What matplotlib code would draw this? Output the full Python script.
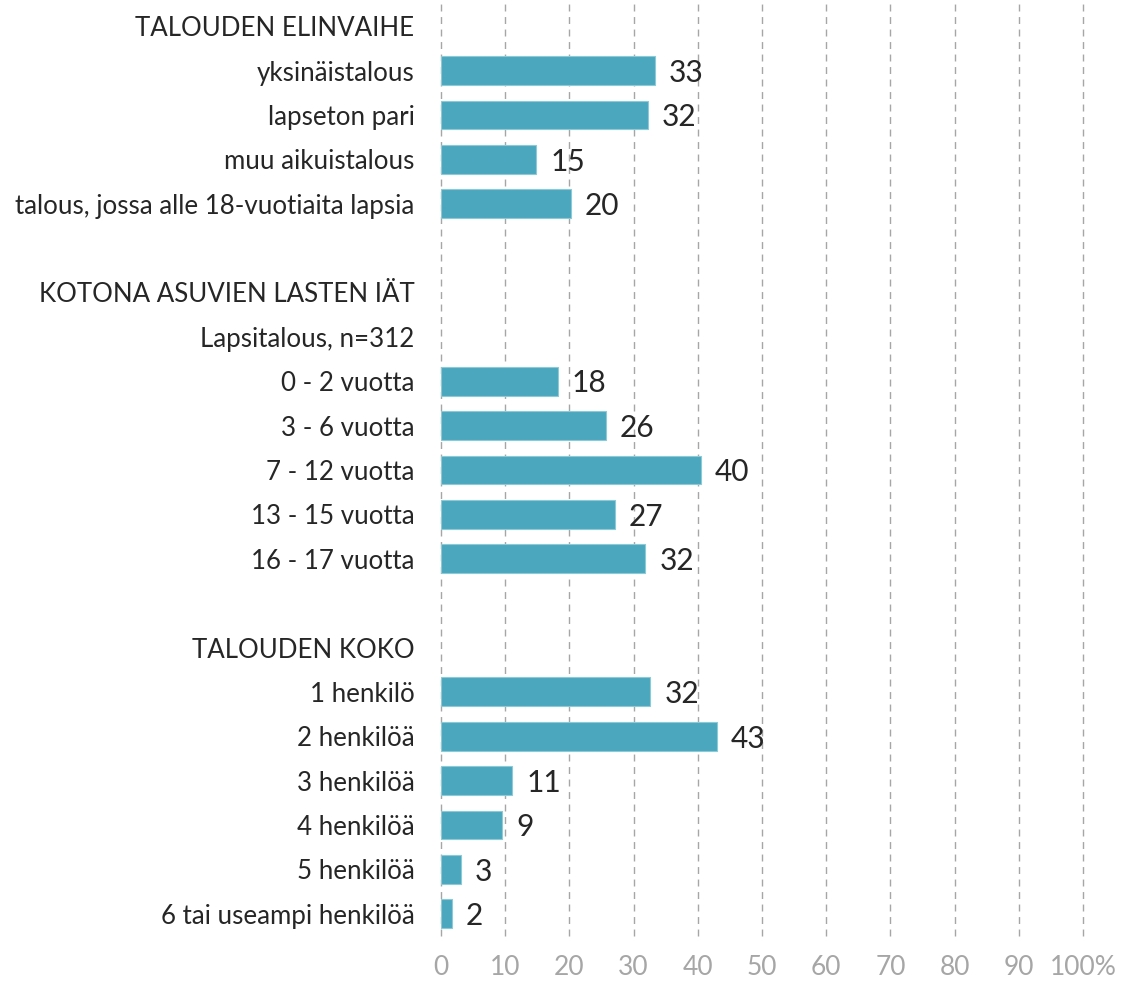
import matplotlib.pyplot as plt
import numpy as np

plt.rcParams['font.family'] = ['Lato', 'DejaVu Sans']

# rows top -> bottom, headers have no value
labels = ['TALOUDEN ELINVAIHE',
          'yksinäistalous', 'lapseton pari', 'muu aikuistalous',
          'talous, jossa alle 18-vuotiaita lapsia',
          '',
          'KOTONA ASUVIEN LASTEN IÄT', 'Lapsitalous, n=312',
          '0 - 2 vuotta', '3 - 6 vuotta', '7 - 12 vuotta', '13 - 15 vuotta', '16 - 17 vuotta',
          '',
          'TALOUDEN KOKO',
          '1 henkilö', '2 henkilöä', '3 henkilöä', '4 henkilöä', '5 henkilöä',
          '6 tai useampi henkilöä']
values = [None,
          33.3, 32.2, 14.8, 20.2,
          None,
          None, None,
          18.2, 25.7, 40.5, 27.1, 31.8,
          None,
          None,
          32.6, 43.0, 11.1, 9.5, 3.1, 1.7]
value_labels = [None, '33', '32', '15', '20', None, None, None,
                '18', '26', '40', '27', '32', None, None,
                '32', '43', '11', '9', '3', '2']
xticks = list(range(0, 101, 10))
xticklabels = ['0', '10', '20', '30', '40', '50', '60', '70', '80', '90', '100%']

bar_color = '#4BA7BD'
text_color = '#262626'

fig = plt.figure(figsize=(11.33, 9.84), dpi=100)
ax = fig.add_axes([441/1133, 1-936/984, (1083-441)/1133, 932/984])

y = np.arange(len(labels))
for yi, v, lab in zip(y, values, value_labels):
    if v is None:
        continue
    ax.barh(yi, v, height=0.65, color=bar_color, edgecolor='#8ccad8', linewidth=0.8, zorder=3)
    ax.text(v + 2.2, yi + 0.05, lab, va='center', ha='left', fontsize=21.5, color=text_color, zorder=4)

ax.set_ylim(len(labels) - 0.5, -0.5)
ax.set_xlim(0, 100)
ax.set_yticks(y)
ax.set_yticklabels(labels, fontsize=18.6, color=text_color)
ax.set_xticks(xticks)
ax.set_xticklabels(xticklabels, fontsize=19, color='#A6A6A6')
ax.tick_params(axis='y', length=0, pad=19)
ax.tick_params(axis='x', length=0, pad=14)
ax.xaxis.grid(True, linestyle=(0, (5, 4)), color='#A6A6A6', linewidth=1, zorder=0)
for gl in ax.get_xgridlines():
    gl.set_clip_on(False)
for s in ax.spines.values():
    s.set_visible(False)

fig.savefig('out.png', dpi=100)
